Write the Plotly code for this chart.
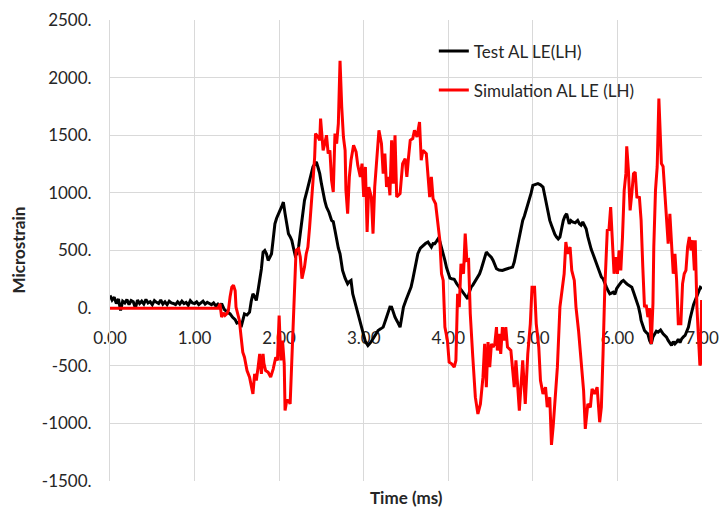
import plotly.graph_objects as go

# ---------------- data ----------------
t_test = [0.00, 0.025, 0.05, 0.075, 0.10, 0.125, 0.15, 0.175, 0.20, 0.225, 0.25, 0.275, 0.30, 0.325,
          0.35, 0.375, 0.40, 0.425, 0.45, 0.475, 0.50, 0.525, 0.55, 0.575, 0.60, 0.625, 0.65, 0.675,
          0.70, 0.725, 0.75, 0.775, 0.80, 0.825, 0.85, 0.875, 0.90, 0.925, 0.95, 0.975, 1.00, 1.025,
          1.05, 1.075, 1.10, 1.125, 1.15, 1.175, 1.20, 1.225, 1.25, 1.275, 1.30,
          1.32, 1.35, 1.38, 1.42, 1.45, 1.48, 1.50, 1.53, 1.55, 1.57, 1.59, 1.62, 1.65, 1.67, 1.69,
          1.71, 1.73, 1.75, 1.77, 1.79, 1.81, 1.83, 1.85, 1.87, 1.89, 1.91, 1.93, 1.95, 1.97, 1.99,
          2.01, 2.03, 2.05, 2.07, 2.09, 2.11, 2.13, 2.15, 2.17, 2.19, 2.21, 2.23, 2.25, 2.27, 2.30,
          2.33, 2.36, 2.38, 2.40, 2.42, 2.44, 2.46, 2.48, 2.50, 2.52, 2.54, 2.56, 2.59, 2.62, 2.64,
          2.66, 2.68, 2.70, 2.72, 2.75, 2.78, 2.81, 2.83, 2.85, 2.87, 2.90, 2.93, 2.96, 2.99, 3.02,
          3.05, 3.08, 3.11, 3.14, 3.17, 3.20, 3.23, 3.26, 3.29, 3.31, 3.33, 3.35, 3.37, 3.40, 3.43,
          3.45, 3.47, 3.50, 3.53, 3.56, 3.58, 3.60, 3.62, 3.64, 3.67, 3.70, 3.73, 3.76, 3.78, 3.80,
          3.82, 3.84, 3.86, 3.88, 3.90, 3.92, 3.94, 3.96, 3.98, 4.00, 4.02, 4.04, 4.07, 4.10, 4.13,
          4.16, 4.19, 4.21, 4.23, 4.25, 4.27, 4.29, 4.31, 4.34, 4.37, 4.39, 4.41, 4.43, 4.45, 4.47,
          4.49, 4.51, 4.53, 4.55, 4.57, 4.60, 4.64, 4.67, 4.70, 4.73, 4.76, 4.78, 4.80, 4.82, 4.84,
          4.86, 4.88, 4.90, 4.92, 4.94, 4.96, 4.98, 5.00, 5.03, 5.06, 5.09, 5.12, 5.14, 5.16, 5.18,
          5.20, 5.22, 5.24, 5.26, 5.28, 5.30, 5.32, 5.34, 5.36, 5.38, 5.40, 5.42, 5.43, 5.45, 5.47,
          5.50, 5.53, 5.55, 5.57, 5.59, 5.61, 5.63, 5.65, 5.67, 5.69, 5.71, 5.73, 5.75, 5.77, 5.79,
          5.81, 5.83, 5.85, 5.87, 5.89, 5.91, 5.93, 5.95, 5.97, 5.99, 6.01, 6.03, 6.05, 6.07, 6.09,
          6.11, 6.13, 6.15, 6.17, 6.19, 6.21, 6.23, 6.25, 6.27, 6.28, 6.30, 6.32, 6.34, 6.36, 6.38,
          6.40, 6.42, 6.44, 6.46, 6.48, 6.51, 6.54, 6.56, 6.58, 6.60, 6.62, 6.64, 6.66, 6.68, 6.70,
          6.72, 6.74, 6.76, 6.78, 6.80, 6.82, 6.84, 6.86, 6.88, 6.90, 6.92, 6.94, 6.96, 6.98, 7.00]
test_al_le = [110, 70, 95, 40, 80, -20, 60, 45, 75, 30, 65, 55, 0, 70,
              40, 60, 35, 75, 45, 55, 30, 65, 50, 40, 70, 35, 55, 30,
              60, 45, 40, 30, 55, 35, 60, 40, 50, 25, 65, 45, 40, 55,
              30, 45, 60, 35, 50, 40, 30, 45, 20, 35, 10,
              40, -10, -30, -50, -80, -100, -130, -120, -165, -110, -50, -60, -35, 60, 125,
              100, 67, 150, 240, 340, 486, 500, 472, 414, 440, 472, 600, 732, 780, 820,
              848, 880, 920, 820, 720, 645, 620, 588, 520, 457, 470, 530, 650, 780, 935,
              1020, 1109, 1170, 1225, 1250, 1268, 1220, 1167, 1080, 993, 930, 877, 830, 761, 750,
              675, 588, 520, 472, 327, 260, 211, 230, 240, 124, 40, -49, -140, -223, -290,
              -324, -300, -266, -230, -194, -180, -165, -100, -20, 10, 9, -40, -78, -120, -165,
              -80, 9, 70, 124, 182, 250, 327, 400, 472, 520, 544, 560, 573, 550, 530,
              560, 559, 580, 602, 580, 530, 470, 414, 350, 298, 260, 255, 250, 211, 182,
              150, 124, 110, 81, 140, 182, 200, 226, 260, 298, 340, 385, 440, 486, 470,
              457, 440, 414, 380, 342, 330, 327, 335, 342, 350, 356, 400, 472, 530, 588,
              680, 761, 800, 848, 890, 935, 1000, 1065, 1075, 1080, 1070, 1051, 980, 906, 830,
              761, 720, 675, 640, 617, 600, 617, 690, 761, 800, 819, 760, 732, 760, 747,
              740, 761, 732, 720, 747, 720, 689, 620, 559, 510, 472, 430, 385, 340, 298,
              270, 255, 210, 182, 150, 124, 130, 139, 120, 168, 190, 211, 230, 240, 220,
              211, 200, 190, 182, 140, 96, 50, 9, -60, -107, -150, -194, -210, -223, -280,
              -310, -250, -223, -200, -208, -190, -223, -240, -252, -280, -300, -324, -290, -310, -295,
              -270, -300, -266, -250, -237, -200, -165, -90, -20, 30, 67, 100, 139, 180, 168]

t_sim = [0.00, 1.28, 1.30, 1.32, 1.34, 1.36, 1.38, 1.40, 1.42, 1.44, 1.46, 1.48, 1.49, 1.51, 1.53,
         1.55, 1.57, 1.59, 1.62, 1.65, 1.67, 1.69, 1.71, 1.73, 1.75, 1.77, 1.79, 1.81, 1.82, 1.84,
         1.87, 1.90, 1.93, 1.96, 1.98, 2.00, 2.02, 2.04, 2.06, 2.07, 2.09, 2.11, 2.13, 2.15, 2.17,
         2.20, 2.23, 2.25, 2.27, 2.30, 2.32, 2.34, 2.36, 2.38, 2.40, 2.42, 2.43, 2.46, 2.48, 2.49,
         2.52, 2.54, 2.56, 2.58, 2.60, 2.62, 2.64, 2.66, 2.68, 2.70, 2.72, 2.74, 2.76, 2.78, 2.79,
         2.81, 2.83, 2.85, 2.88, 2.91, 2.93, 2.96, 2.98, 3.00, 3.02, 3.04, 3.06, 3.09, 3.11, 3.13,
         3.15, 3.18, 3.21, 3.23, 3.25, 3.27, 3.29, 3.31, 3.33, 3.35, 3.37, 3.39, 3.43, 3.46, 3.49,
         3.51, 3.53, 3.55, 3.58, 3.60, 3.63, 3.66, 3.68, 3.70, 3.74, 3.76, 3.78, 3.80, 3.82, 3.85,
         3.88, 3.90, 3.92, 3.94, 3.96, 3.99, 4.01, 4.04, 4.07, 4.09, 4.11, 4.13, 4.15, 4.18, 4.20,
         4.22, 4.24, 4.26, 4.29, 4.32, 4.35, 4.38, 4.41, 4.43, 4.45, 4.47, 4.49, 4.51, 4.53, 4.55,
         4.57, 4.58, 4.60, 4.62, 4.64, 4.66, 4.68, 4.70, 4.74, 4.78, 4.80, 4.84, 4.88, 4.91, 4.94,
         4.97, 4.99, 5.02, 5.04, 5.07, 5.09, 5.12, 5.15, 5.17, 5.20, 5.22, 5.24, 5.26, 5.29, 5.32,
         5.34, 5.37, 5.39, 5.41, 5.44, 5.46, 5.49, 5.51, 5.54, 5.57, 5.59, 5.60, 5.62, 5.65, 5.68,
         5.70, 5.73, 5.76, 5.79, 5.81, 5.83, 5.85, 5.88, 5.90, 5.92, 5.94, 5.96, 5.98, 6.00, 6.02,
         6.04, 6.06, 6.08, 6.10, 6.11, 6.13, 6.15, 6.17, 6.19, 6.21, 6.23, 6.26, 6.28, 6.30, 6.32,
         6.34, 6.36, 6.38, 6.40, 6.42, 6.43, 6.45, 6.47, 6.49, 6.50, 6.52, 6.54, 6.56, 6.58, 6.60,
         6.62, 6.64, 6.66, 6.68, 6.70, 6.72, 6.75, 6.77, 6.79, 6.81, 6.83, 6.85, 6.87, 6.89, 6.91,
         6.92, 6.94, 6.96, 6.975, 6.985, 6.995]
sim_al_le = [0, 0, 38, -78, -40, -64, -50, -20, 100, 182, 200, 150, 9, -60, -107,
             -250, -382, -426, -541, -599, -680, -744, -570, -628, -520, -397, -570, -397, -480, -541,
             -556, -599, -527, -426, -454, -64, -454, -281, -483, -889, -800, -802, -831, -397, 38,
             501, 515, 443, 255, 356, 470, 530, 700, 877, 1100, 1311, 1514, 1485, 1456, 1644,
             1369, 1430, 1500, 1340, 1369, 1109, 1007, 1514, 1427, 1601, 2145, 1746, 1485, 1369, 1022,
             819, 1138, 1283, 1413, 1355, 1239, 1138, 1254, 964, 1225, 660, 1051, 964, 646, 1051,
             1283, 1543, 1427, 1167, 1340, 1051, 1138, 979, 1456, 1080, 1500, 964, 993, 1254, 1297,
             1138, 1311, 1456, 1471, 1543, 1485, 1615, 1283, 1369, 1340, 1167, 964, 1138, 950, 906,
             732, 588, 298, 240, -165, -281, -469, -483, -512, -454, 124, 9, 385, 298, 646,
             414, 420, -49, -426, -773, -918, -831, -599, -310, -686, -295, -512, -310, -339, -310,
             -165, -368, -223, -397, -165, -281, -165, -339, -368, -686, -454, -889, -454, -831, -397,
             -136, 182, 182, -136, -339, -628, -744, -686, -860, -773, -1187, -1028, -802, -512, 9,
             124, 298, 573, 472, 530, 327, 240, 9, -194, -450, -628, -715, -1048, -831, -860,
             -700, -744, -686, -990, -860, -397, 153, 675, 680, 877, 530, 298, 443, 298, 501,
             327, 617, 1022, 1167, 1404, 1196, 848, 993, 1167, 1181, 964, 960, 761, 356, 9,
             30, -78, 0, -310, 38, 530, 1022, 1225, 1818, 1659, 1254, 1230, 1007, 790, 559,
             819, 530, 298, 472, 240, -136, -136, 211, 298, 327, 530, 617, 501, 588, 327,
             588, 9, -281, -498, -480, 70]

series_names = ["Test AL LE(LH)", "Simulation AL LE (LH)"]
series_colors = ["#000000", "#ff0000"]

y_tick_vals = [-1500, -1000, -500, 0, 500, 1000, 1500, 2000, 2500]
y_tick_text = ["-1500.", "-1000.", "-500.", "0.", "500.", "1000.", "1500.", "2000.", "2500."]
x_tick_vals = [0, 1, 2, 3, 4, 5, 6, 7]

x_title = "Time (ms)"
y_title = "Microstrain"

FONT = "Lato, 'Open Sans', sans-serif"
TXT = "#262626"
GRID = "#d9d9d9"

fig = go.Figure()
fig.add_trace(go.Scatter(x=t_test, y=test_al_le, mode="lines", name=series_names[0],
                         legendgroup="a", line=dict(color=series_colors[0], width=3)))
fig.add_trace(go.Scatter(x=t_sim, y=sim_al_le, mode="lines", name=series_names[1],
                         legendgroup="b", line=dict(color=series_colors[1], width=3)))

fig.update_layout(
    width=724, height=508,
    margin=dict(l=110, r=22, t=20, b=27),
    paper_bgcolor="white", plot_bgcolor="white",
    font=dict(family=FONT, size=17, color=TXT),
    showlegend=True,
    legend=dict(x=0.547, y=0.971, xanchor="left", yanchor="top",
                bgcolor="rgba(0,0,0,0)", font=dict(size=17, color=TXT),
                tracegroupgap=14, traceorder="grouped", itemwidth=30),
    xaxis=dict(range=[0, 7], tickvals=x_tick_vals, tickformat=".2f",
               anchor="free", position=0.375, layer="below traces", automargin=False,
               showgrid=True, gridcolor=GRID, gridwidth=1, zeroline=False,
               showline=False, ticks="", ticklabelstandoff=18,
               tickfont=dict(size=17, color=TXT)),
    yaxis=dict(range=[-1500, 2500], tickvals=y_tick_vals, ticktext=y_tick_text,
               domain=[0, 1], automargin=False,
               showgrid=True, gridcolor=GRID, gridwidth=1, zeroline=False,
               showline=True, linecolor=GRID, linewidth=1, ticks="",
               ticklabelstandoff=14, tickfont=dict(size=17, color=TXT)),
    annotations=[
        dict(text="<b>" + x_title + "</b>", xref="paper", yref="paper", x=0.5, y=0,
             xanchor="center", yanchor="middle", yshift=-16, showarrow=False,
             font=dict(size=17, color=TXT, family=FONT)),
        dict(text="<b>" + y_title + "</b>", xref="paper", yref="paper", x=0, y=0.5,
             xanchor="center", yanchor="middle", xshift=-92, textangle=-90, showarrow=False,
             font=dict(size=17, color=TXT, family=FONT)),
    ],
)

fig.write_html("out.html")
